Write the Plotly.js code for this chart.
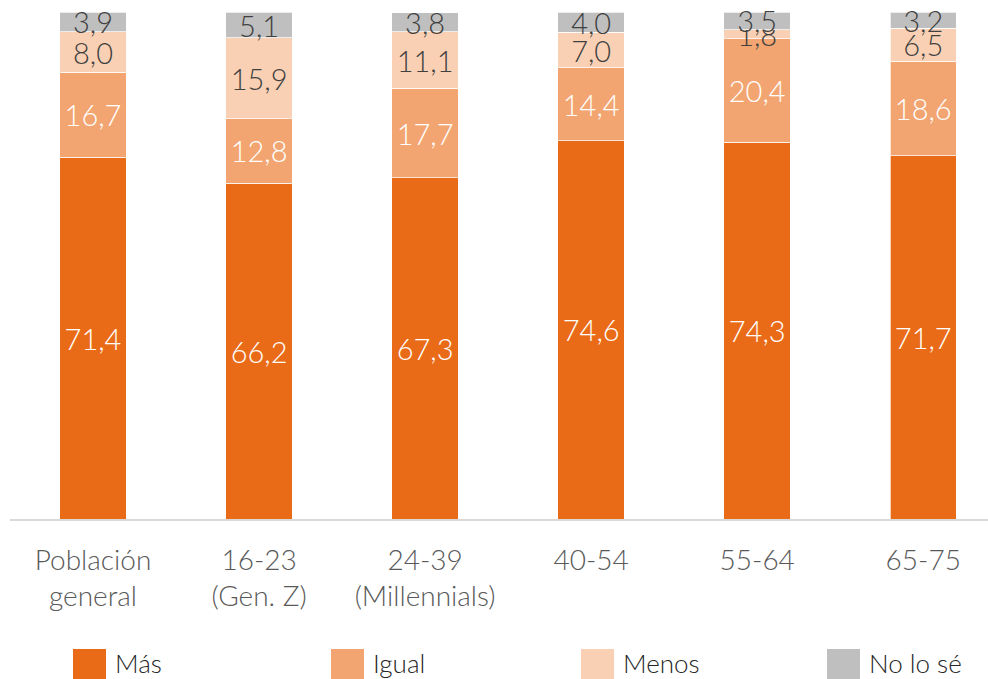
<!DOCTYPE html>
<html>
<head>
<meta charset="utf-8">
<script src="https://cdn.plot.ly/plotly-3.0.1.min.js"></script>
<style>html,body{margin:0;padding:0;background:#fff;}#chart{width:988px;height:679px;}</style>
</head>
<body>
<div id="chart"></div>
<script>
const categories = ["Población<br>general", "16-23<br>(Gen. Z)", "24-39<br>(Millennials)", "40-54", "55-64", "65-75"];
const seriesNames = ["Más", "Igual", "Menos", "No lo sé"];
const mas = [71.4, 66.2, 67.3, 74.6, 74.3, 71.7];
const igual = [16.7, 12.8, 17.7, 14.4, 20.4, 18.6];
const menos = [8.0, 15.9, 11.1, 7.0, 1.8, 6.5];
const nolose = [3.9, 5.1, 3.8, 4.0, 3.5, 3.2];

const seriesValues = [mas, igual, menos, nolose];
const colors = ["#E96B17", "#F2A571", "#F9D0B4", "#BFBFBF"];
const textColors = ["#FFFFFF", "#FFFFFF", "#404040", "#404040"];
const FONT = "Lato, 'Open Sans', sans-serif";

const traces = seriesValues.map((vals, i) => ({
  type: "bar",
  name: seriesNames[i],
  x: categories,
  y: vals,
  marker: {color: colors[i], line: {color: "rgba(255,255,255,0.7)", width: 1}},
  texttemplate: "%{y:.1f}",
  textposition: "inside",
  insidetextanchor: "middle",
  textangle: 0,
  constraintext: "none",
  textfont: {family: FONT, size: 29, color: textColors[i], weight: 300},
  cliponaxis: false,
  hoverinfo: "skip",
  showlegend: false
}));

// custom legend (large swatches)
const L = 10, PW = 978, T = 12, PH = 507;
const px = v => (v - L) / PW;
const py = v => (T + PH - v) / PH;
const legendX = [73, 331, 581, 827];
const shapes = [], annotations = [];
seriesNames.forEach((n, i) => {
  shapes.push({type: "rect", xref: "paper", yref: "paper",
    x0: px(legendX[i]), x1: px(legendX[i] + 33), y0: py(682), y1: py(649),
    fillcolor: colors[i], line: {width: 0}});
  annotations.push({xref: "paper", yref: "paper", x: px(legendX[i] + 40), y: py(663),
    xanchor: "left", yanchor: "middle", showarrow: false, text: n,
    font: {family: FONT, size: 26, color: "#262626", weight: 300}});
});

const layout = {
  width: 988, height: 679,
  margin: {l: L, r: 0, t: T, b: 679 - T - PH},
  paper_bgcolor: "#fff", plot_bgcolor: "#fff",
  barmode: "stack",
  bargap: 0.6,
  separators: ",.",
  showlegend: false,
  uniformtext: {mode: "show", minsize: 29},
  xaxis: {
    type: "category",
    range: [-0.5, 5.39],
    showline: true, linecolor: "#D9D9D9", linewidth: 2,
    ticks: "outside", ticklen: 15, tickcolor: "rgba(0,0,0,0)",
    tickfont: {family: FONT, size: 28, color: "#595959", weight: 300},
    fixedrange: true
  },
  yaxis: {
    range: [0, 100.02],
    visible: false,
    showgrid: false, zeroline: false,
    fixedrange: true
  },
  shapes: shapes,
  annotations: annotations
};

Plotly.newPlot("chart", traces, layout, {displayModeBar: false, staticPlot: true});
</script>
</body>
</html>
